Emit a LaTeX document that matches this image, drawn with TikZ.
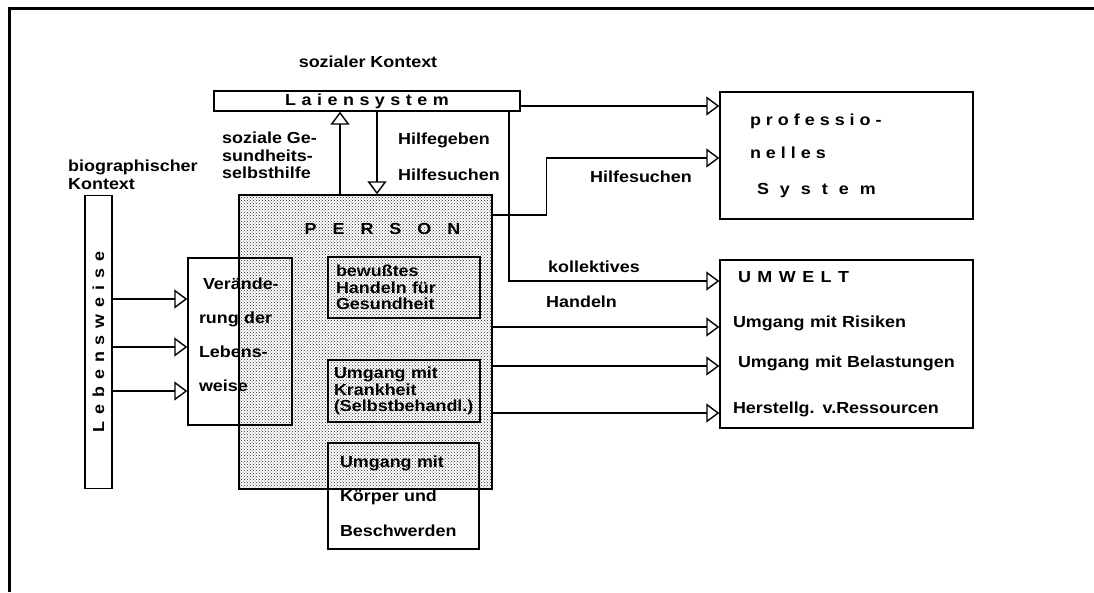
\documentclass[tikz,border=0pt]{standalone}
\usepackage{fontspec}
\setmainfont{Liberation Sans}[FakeStretch=1.12]
\usepackage{tikz}
\usetikzlibrary{arrows.meta}
\usetikzlibrary{patterns,positioning}
\colorlet{penColor}{black}
\newlength{\lsgap}
\newcommand{\ks}{\kern\lsgap}
\tikzset{>={Triangle[open,length=13pt,width=19pt]},
  txt/.style={font=\bfseries\fontsize{16}{18}\selectfont,inner sep=0pt},
  box/.style={txt,draw=penColor,line width=1.4pt},
  inbox/.style={box,align=left,font=\bfseries\fontsize{16}{16.5}\selectfont},
  conn/.style={->,draw=penColor,line width=1.4pt}}

\begin{document}
\begin{tikzpicture}[x=1pt,y=-1pt]
            \useasboundingbox (0,0) rectangle (1094,592);
            \draw[line width=3pt,penColor] (9,592) -- (9,8) -- (1094,8);
            \node[box,minimum width=253pt,minimum height=294pt,fill=black!10,
                  pattern=crosshatch dots,pattern color=penColor!85] (person) at (365.5,342) {};
            \node[txt,below=29pt of person.north,xshift=17pt] (persontitle)
                  {\setlength\lsgap{16pt}P\ks E\ks R\ks S\ks O\ks N};
            \node[txt] (sozkontext) at (368,62) {sozialer Kontext};
            \node[box,minimum width=306pt,minimum height=20pt] (lai) at (367,101)
                  {\setlength\lsgap{5.5pt}L\ks a\ks i\ks e\ks n\ks s\ks y\ks s\ks t\ks e\ks m};
            \node[box,minimum width=253pt,minimum height=127pt,text width=193pt,
                  inner xsep=30pt,align=left] (prof) at (846.5,155.5)
                  {\setlength\lsgap{5pt}p\ks r\ks o\ks f\ks e\ks s\ks s\ks i\ks o\ks -\\[15pt]
                   n\ks e\ks l\ks l\ks e\ks s\\[18pt]
                   \hspace*{7pt}\setlength\lsgap{11pt}S\ks y\ks s\ks t\ks e\ks m};
            \node[box,minimum width=253pt,minimum height=168pt,text width=227pt,
                  inner xsep=13pt,align=left] (umwelt) at (846.5,344)
                  {\hspace*{5pt}\setlength\lsgap{6.5pt}U\ks M\ks W\ks E\ks L\ks T\\[27pt]
                   Umgang mit Risiken\\[22pt]
                   \hspace*{5pt}Umgang mit Belastungen\\[28pt]
                   Herstellg. v.Ressourcen};
            \node[box,minimum width=27pt,minimum height=293pt] (leb) at (98.5,342)
                  {\rotatebox{90}{\setlength\lsgap{7pt}L\ks e\ks b\ks e\ks n\ks s\ks w\ks e\ks i\ks s\ks e}};
            \node[box,minimum width=104pt,minimum height=167pt,text width=82pt,
                  inner xsep=11pt,align=left,font=\bfseries\fontsize{16}{34}\selectfont] (ver) at (240,341.5)
                  {\hspace*{4pt}Verände-\\rung der\\Lebens-\\weise\\[-20pt]\mbox{}};
            \node[inbox,minimum width=152pt,minimum height=61pt,text width=136pt,
                  inner xsep=8pt] (bew) at (404,287.5) {bewußtes\\Handeln für\\Gesundheit};
            \node[inbox,minimum width=152pt,minimum height=62pt,text width=140pt,
                  inner xsep=6pt] (kra) at (404,391) {Umgang mit\\Krankheit\\(Selbstbehandl.)};
            \node[inbox,minimum width=151pt,minimum height=106pt,text width=127pt,
                  inner xsep=12pt,font=\bfseries\fontsize{16}{34.5}\selectfont] (kor) at (403.5,496)
                  {Umgang mit\\Körper und\\Beschwerden};
            \node[txt,align=left,anchor=west,font=\bfseries\fontsize{16}{17.5}\selectfont] (selbsthilfe)
                  at (222,155.5) {soziale Ge-\\sundheits-\\selbsthilfe};
            \node[txt,anchor=west] (hilfegeben) at (398,140) {Hilfegeben};
            \node[txt,anchor=west] (hilfesuchen) at (398,175) {Hilfesuchen};
            \node[txt,align=left,anchor=west] (biokontext) at (68,175) {biographischer\\Kontext};
            \node[txt,anchor=west] (hilfesuchenprof) at (590,177) {Hilfesuchen};
            \node[txt,anchor=west] (kollektiv) at (548,267) {kollektives};
            \node[txt,anchor=west] (handeln) at (546,302) {Handeln};
            \draw[conn] (leb.east |- 0,299) -- (ver.west |- 0,299);
            \draw[conn] (leb.east |- 0,347) -- (ver.west |- 0,347);
            \draw[conn] (leb.east |- 0,391) -- (ver.west |- 0,391);
            \draw[conn] (person.north -| 340,0) -- (lai.south -| 340,0);
            \draw[conn] (lai.south -| 377,0) -- (person.north -| 377,0);
            \draw[conn] (lai.east |- 0,106) -- (prof.west |- 0,106);
            \draw[conn] (person.east |- 0,215) -- ++(54,0) |- (prof.west |- 0,158);
            \draw[conn] (lai.south -| 509,0) |- (umwelt.west |- 0,281);
            \draw[conn] (person.east |- 0,327) -- (umwelt.west |- 0,327);
            \draw[conn] (person.east |- 0,366) -- (umwelt.west |- 0,366);
            \draw[conn] (person.east |- 0,413) -- (umwelt.west |- 0,413);
      \end{tikzpicture}
\end{document}
